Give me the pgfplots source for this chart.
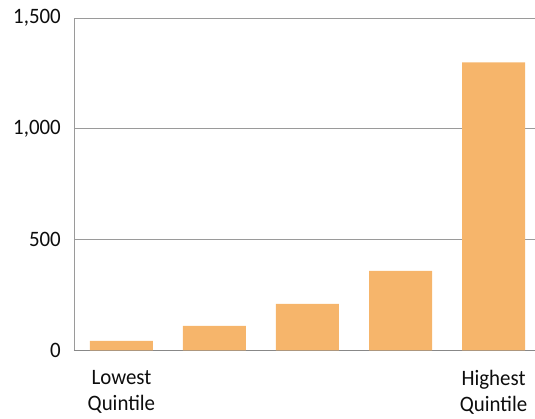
\documentclass[border=0pt]{standalone}
\usepackage{fontspec}
\setmainfont{Carlito}[FakeStretch=0.95]
\usepackage{pgfplots}
\pgfplotsset{compat=1.18}
\usetikzlibrary{calc}
\definecolor{barorange}{HTML}{F6B56B}
\definecolor{gridgray}{HTML}{9A9A9A}
\definecolor{basegray}{HTML}{888888}
\begin{document}
\begin{tikzpicture}
\begin{axis}[
  scale only axis,
  width=461pt, height=332.5pt,
  xmin=-0.51, xmax=4.446,
  ymin=0, ymax=1500,
  axis x line*=bottom,
  axis y line*=left,
  x axis line style={basegray, line width=1.6pt, -},
  y axis line style={gridgray, line width=0.9pt, -},
  ytick={0,500,1000,1500},
  ymajorgrids,
  grid style={gridgray, line width=0.9pt},
  major tick length=0pt,
  xtick={0,4},
  xticklabels={Lowest\\Quintile, Highest\\Quintile},
  tick label style={font=\fontsize{22}{26}\selectfont, text=black!95},
  xticklabel style={align=center, inner sep=0pt, yshift=-20pt},
  yticklabel style={anchor=east, inner sep=0pt, xshift=-13pt},
  /pgf/number format/assume math mode=true,
  /pgf/number format/1000 sep={,},
  scaled y ticks=false,
  clip=false,
]
\addplot[ybar, bar width=63pt, fill=barorange, draw=none]
  coordinates {(0,43) (1,111) (2,210) (3,359) (4,1300)};
\end{axis}
\pgfresetboundingbox
\path ($(current axis.south west)+(-74pt,-68.5pt)$) rectangle ($(current axis.north east)+(0pt,18pt)$);
\end{tikzpicture}
\end{document}
